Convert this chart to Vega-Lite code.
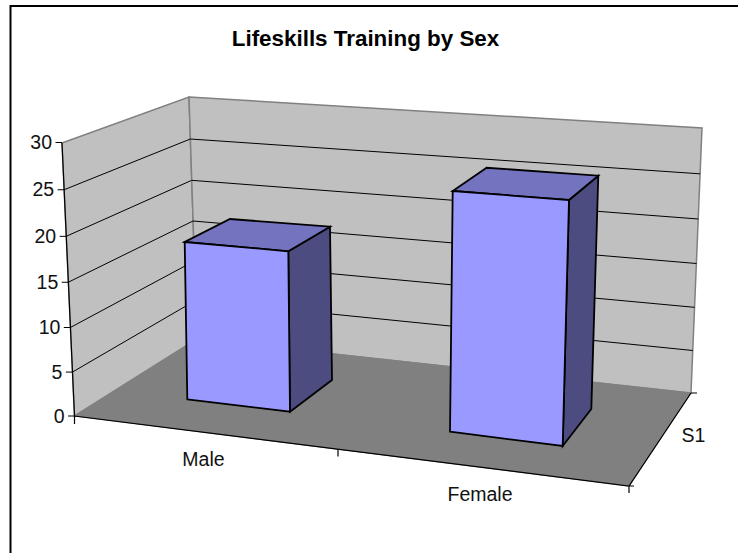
{
"$schema":"https://vega.github.io/schema/vega-lite/v6.json",
"width":738,"height":553,"autosize":"none","padding":0,"background":"white",
"config":{"view":{"stroke":null},"font":"Liberation Sans"},
"title":{"text":"Lifeskills Training by Sex","font":"Liberation Sans","fontSize":22.4,"fontWeight":"bold","color":"black","anchor":"middle","dy":50,"dx":-3.5,"offset":0},
"projection":{"type":"identity","scale":1,"translate":[0,0]},
"datasets":{
"bars":[{"sex":"Male","value":18},{"sex":"Female","value":27}],
"ticks":[{"value":0},{"value":5},{"value":10},{"value":15},{"value":20},{"value":25},{"value":30}],
"series":[{"series":"S1"}]
},
"layer":[
{"data":{"name":"series"},
"transform":[{"calculate":"{type:'Polygon',coordinates:[[[62,143],[189,97],[197,339],[74.5,416],[62,143]]]}","as":"geo"}],
"mark":{"type":"geoshape","fill":"#c0c0c0","stroke":"#808080","strokeWidth":1.5},
"encoding":{"shape":{"field":"geo","type":"geojson"}}},
{"data":{"name":"series"},
"transform":[{"calculate":"{type:'Polygon',coordinates:[[[189,97],[702,128],[691,393],[197,339],[189,97]]]}","as":"geo"}],
"mark":{"type":"geoshape","fill":"#c0c0c0","stroke":"#808080","strokeWidth":1.5},
"encoding":{"shape":{"field":"geo","type":"geojson"}}},
{"data":{"name":"series"},
"transform":[{"calculate":"{type:'Polygon',coordinates:[[[74.5,416],[197,339],[691,393],[629,486],[74.5,416]]]}","as":"geo"}],
"mark":{"type":"geoshape","fill":"#808080","stroke":"#808080","strokeWidth":1},
"encoding":{"shape":{"field":"geo","type":"geojson"}}},
{"data":{"name":"ticks"},
"transform":[{"filter":"datum.value>0 && datum.value<30"},
{"calculate":"datum.value/30","as":"t"},
{"calculate":"12*datum.t*(1-datum.t)","as":"b"},
{"calculate":"{type:'LineString',coordinates:[[74.5-12.5*datum.t,416-273.5*datum.t+datum.b],[197-8*datum.t,339-242*datum.t+datum.b],[691+11*datum.t,393-265*datum.t+datum.b]]}","as":"geo"}],
"mark":{"type":"geoshape","filled":false,"stroke":"black","strokeWidth":1},
"encoding":{"shape":{"field":"geo","type":"geojson"}}},
{"data":{"name":"ticks"},
"transform":[{"calculate":"datum.value/30","as":"t"},
{"calculate":"12*datum.t*(1-datum.t)","as":"b"},
{"calculate":"{type:'LineString',coordinates:[[74.5-12.5*datum.t,416-273.5*datum.t+datum.b],[68-12.5*datum.t,416-273.5*datum.t+datum.b]]}","as":"geo"}],
"mark":{"type":"geoshape","filled":false,"stroke":"black","strokeWidth":1},
"encoding":{"shape":{"field":"geo","type":"geojson"}}},
{"data":{"name":"series"},
"transform":[{"calculate":"{type:'MultiLineString',coordinates:[[[62,143],[74.5,416],[629,486],[691,393]],[[74.5,416],[74.5,424]],[[338,450],[338,456.5]],[[629,486],[629,493]],[[629,486],[634,486]],[[691,393],[697,393]]]}","as":"geo"}],
"mark":{"type":"geoshape","filled":false,"stroke":"black","strokeWidth":1.2},
"encoding":{"shape":{"field":"geo","type":"geojson"}}},
{"data":{"name":"series"},
"transform":[{"calculate":"{type:'MultiLineString',coordinates:[[[738,6],[10.5,6],[10.5,553]]]}","as":"geo"}],
"mark":{"type":"geoshape","filled":false,"stroke":"black","strokeWidth":2},
"encoding":{"shape":{"field":"geo","type":"geojson"}}},
{"data":{"name":"bars"},
"transform":[{"calculate":"datum.sex==='Male' ? {type:'Polygon',coordinates:[[[290,411.7],[332,380],[332-0.111*datum.value,380-8.517*datum.value],[290-0.094*datum.value,411.7-8.911*datum.value],[290,411.7]]]} : {type:'Polygon',coordinates:[[[562.7,446],[591.3,409],[591.3+0.259*datum.value,409-8.641*datum.value],[562.7+0.233*datum.value,446-9.111*datum.value],[562.7,446]]]}","as":"geo"}],
"mark":{"type":"geoshape","fill":"#4c4c80","stroke":"black","strokeWidth":1.8},
"encoding":{"shape":{"field":"geo","type":"geojson"}}},
{"data":{"name":"bars"},
"transform":[{"calculate":"datum.sex==='Male' ? {type:'Polygon',coordinates:[[[187.3-0.144*datum.value,399.3-8.739*datum.value],[290-0.094*datum.value,411.7-8.911*datum.value],[332-0.111*datum.value,380-8.517*datum.value],[232-0.111*datum.value,369.3-8.35*datum.value],[187.3-0.144*datum.value,399.3-8.739*datum.value]]]} : {type:'Polygon',coordinates:[[[450+0.1*datum.value,431.7-8.915*datum.value],[562.7+0.233*datum.value,446-9.111*datum.value],[591.3+0.259*datum.value,409-8.641*datum.value],[482.6+0.15*datum.value,395.9-8.45*datum.value],[450+0.1*datum.value,431.7-8.915*datum.value]]]}","as":"geo"}],
"mark":{"type":"geoshape","fill":"#7373bf","stroke":"black","strokeWidth":1.8},
"encoding":{"shape":{"field":"geo","type":"geojson"}}},
{"data":{"name":"bars"},
"transform":[{"calculate":"datum.sex==='Male' ? {type:'Polygon',coordinates:[[[187.3,399.3],[290,411.7],[290-0.094*datum.value,411.7-8.911*datum.value],[187.3-0.144*datum.value,399.3-8.739*datum.value],[187.3,399.3]]]} : {type:'Polygon',coordinates:[[[450,431.7],[562.7,446],[562.7+0.233*datum.value,446-9.111*datum.value],[450+0.1*datum.value,431.7-8.915*datum.value],[450,431.7]]]}","as":"geo"}],
"mark":{"type":"geoshape","fill":"#9999ff","stroke":"black","strokeWidth":1.8},
"encoding":{"shape":{"field":"geo","type":"geojson"}}},
{"data":{"name":"ticks"},
"transform":[{"calculate":"datum.value/30","as":"t"},
{"calculate":"12*datum.t*(1-datum.t)","as":"b"},
{"calculate":"64.5-12.5*datum.t","as":"lx"},
{"calculate":"416.5-273.5*datum.t+datum.b","as":"ly"}],
"mark":{"type":"text","align":"right","baseline":"middle","fontSize":19.5,"color":"#111111"},
"encoding":{"longitude":{"field":"lx","type":"quantitative"},"latitude":{"field":"ly","type":"quantitative"},"text":{"field":"value","type":"quantitative"}}},
{"data":{"name":"bars"},
"transform":[{"calculate":"datum.sex==='Male'?203.5:480","as":"lx"},{"calculate":"datum.sex==='Male'?459.5:494.5","as":"ly"}],
"mark":{"type":"text","align":"center","baseline":"middle","fontSize":19.5,"color":"#111111"},
"encoding":{"longitude":{"field":"lx","type":"quantitative"},"latitude":{"field":"ly","type":"quantitative"},"text":{"field":"sex","type":"nominal"}}},
{"data":{"name":"series"},
"transform":[{"calculate":"693.5","as":"lx"},{"calculate":"436","as":"ly"}],
"mark":{"type":"text","align":"center","baseline":"middle","fontSize":19.5,"color":"#111111"},
"encoding":{"longitude":{"field":"lx","type":"quantitative"},"latitude":{"field":"ly","type":"quantitative"},"text":{"field":"series","type":"nominal"}}}
]
}
